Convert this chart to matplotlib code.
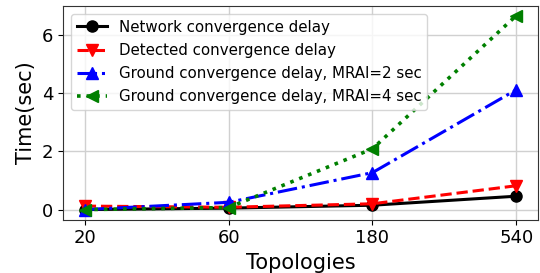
import matplotlib
matplotlib.use("Agg")
import matplotlib.pyplot as plt

topologies = ["20", "60", "180", "540"]
network = [0.0, 0.05, 0.15, 0.46]
detected = [0.12, 0.08, 0.2, 0.82]
ground2 = [0.0, 0.25, 1.27, 4.12]
ground4 = [0.0, 0.07, 2.09, 6.67]

fig, ax = plt.subplots(figsize=(5.4, 2.73), dpi=100)
x = range(len(topologies))
ax.plot(x, network, color="black", linestyle="-", marker="o", lw=2.2, ms=8, label="Network convergence delay")
ax.plot(x, detected, color="red", linestyle="--", marker="v", lw=2.2, ms=8, label="Detected convergence delay")
ax.plot(x, ground2, color="blue", linestyle="-.", marker="^", lw=2.2, ms=8, label="Ground convergence delay, MRAI=2 sec")
ax.plot(x, ground4, color="green", linestyle=":", marker="<", lw=2.6, ms=8, label="Ground convergence delay, MRAI=4 sec")
ax.set_xticks(list(x))
ax.set_xticklabels(topologies)
ax.set_ylim(-0.35, 7.0)
ax.set_yticks([0, 2, 4, 6])
ax.tick_params(labelsize=13)
ax.set_xlabel("Topologies", fontsize=15)
ax.set_ylabel("Time(sec)", fontsize=15)
ax.grid(True, linewidth=1.0, color="#d0d0d0")
for s in ax.spines.values():
    s.set_color("#333333")
ax.legend(loc="upper left", fontsize=10.8, handlelength=2.0, borderaxespad=0.5, labelspacing=0.55)
fig.subplots_adjust(left=0.117, right=0.996, top=0.978, bottom=0.195)
fig.savefig("out.png", dpi=100)
